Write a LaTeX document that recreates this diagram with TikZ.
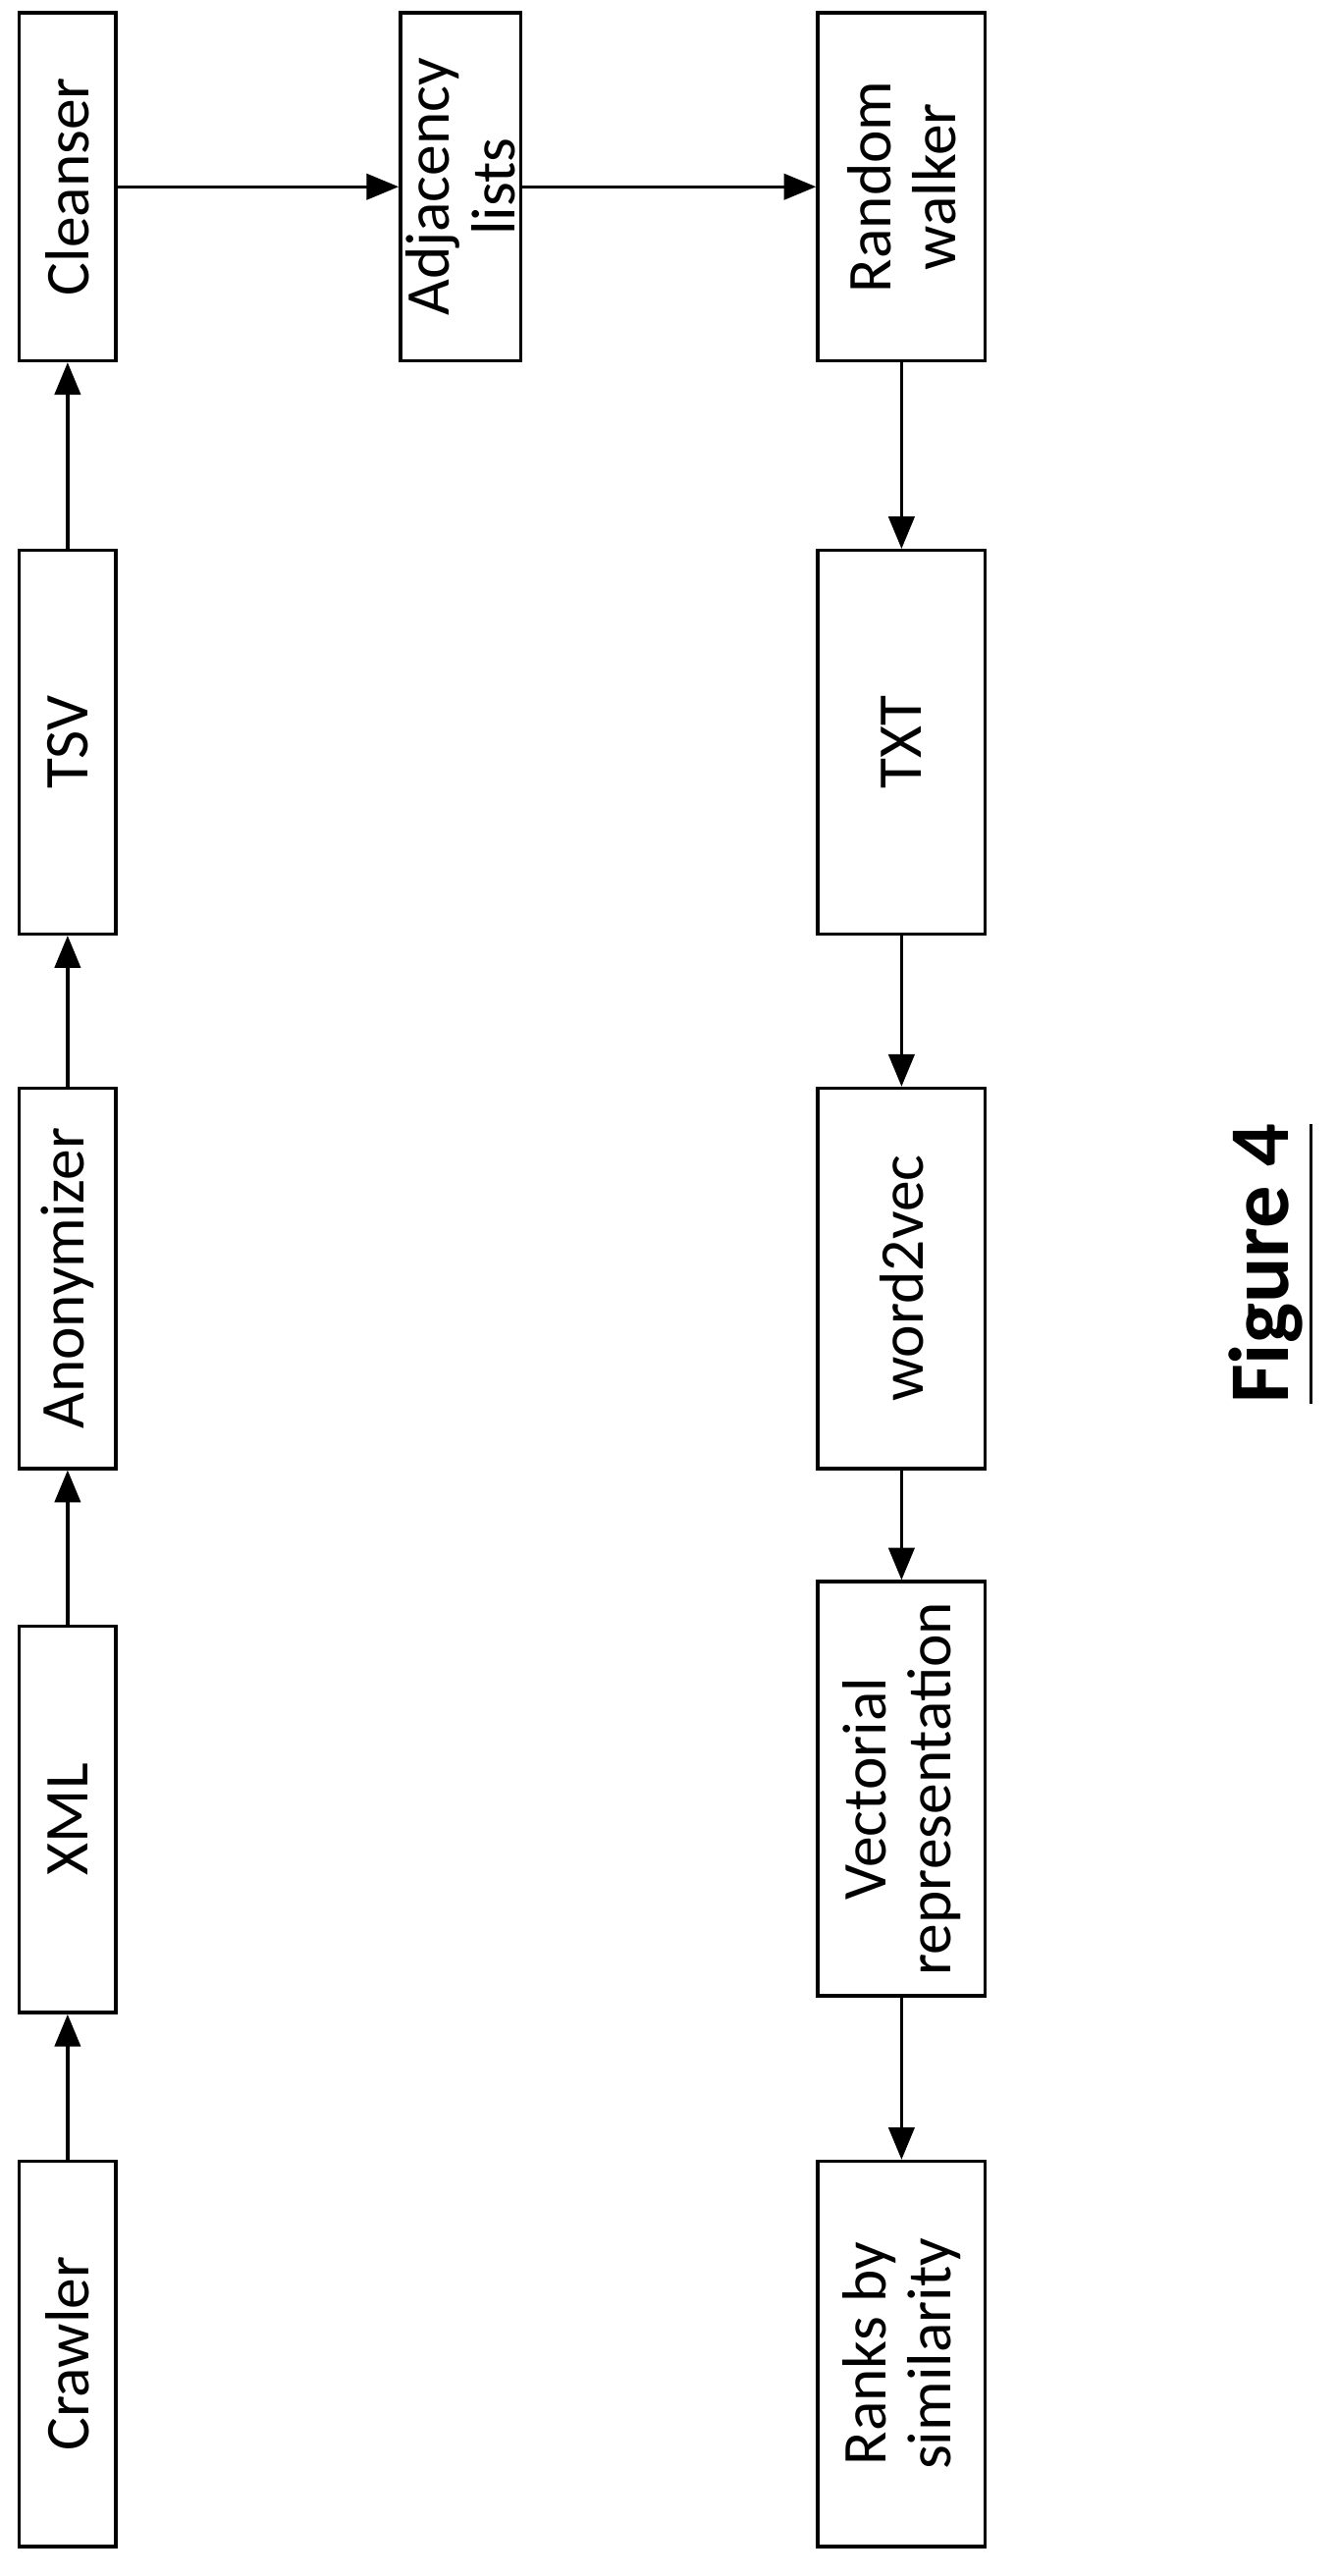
\documentclass[tikz,border=0pt]{standalone}
\usepackage{fontspec}
\setmainfont{Carlito}
\usetikzlibrary{arrows.meta}

\begin{document}
\begin{tikzpicture}[
		x=0.01cm, y=-0.01cm,
		stage/.style={
			rectangle,
			draw=black,
			semithick,
			rotate=90,
			minimum height=0.6cm,
			inner sep=1pt,
			align=center,
			font=\fontsize{11}{11.5}\selectfont
		},
		wide/.style={
			stage,
			minimum height=1.04cm
		},
		arrow/.style={
			semithick,
			-{Triangle[length=2mm,width=1.6mm]},
		}
	]
	\useasboundingbox (0,0) rectangle (830,1600);
	
	\node[stage, minimum width=2.39cm] (crawler) at (42,1462) {Crawler};
	\node[stage, minimum width=2.40cm] (xml) at (42,1130) {XML};
	\node[stage, minimum width=2.36cm] (anon) at (42,794) {Anonymizer};
	\node[stage, minimum width=2.38cm] (tsv) at (42,461) {TSV};
	\node[stage, minimum width=2.16cm] (cleanser) at (42,116) {Cleanser};
	\node[stage, minimum width=2.16cm] (adj) at (286,116) {Adjacency\\lists};
	\node[wide, minimum width=2.16cm] (walker) at (560,116) {Random\\walker};
	\node[wide, minimum width=2.38cm] (txt) at (560,461) {TXT};
	\node[wide, minimum width=2.36cm] (w2v) at (560,794) {word2vec};
	\node[wide, minimum width=2.57cm] (vect) at (560,1111) {Vectorial\\representation};
	\node[wide, minimum width=2.39cm] (ranks) at (560,1462) {Ranks by\\similarity};
	
	\draw[arrow] (crawler) -- (xml);
	\draw[arrow] (xml) -- (anon);
	\draw[arrow] (anon) -- (tsv);
	\draw[arrow] (tsv) -- (cleanser);
	\draw[arrow] (cleanser) -- (adj);
	\draw[arrow] (adj) -- (walker);
	\draw[arrow] (walker) -- (txt);
	\draw[arrow] (txt) -- (w2v);
	\draw[arrow] (w2v) -- (vect);
	\draw[arrow] (vect) -- (ranks);
	
	\node[rotate=90, font=\fontsize{15}{18}\selectfont\bfseries] (fig) at (790,785) {\underline{Figure 4}};
	
\end{tikzpicture}
\end{document}
